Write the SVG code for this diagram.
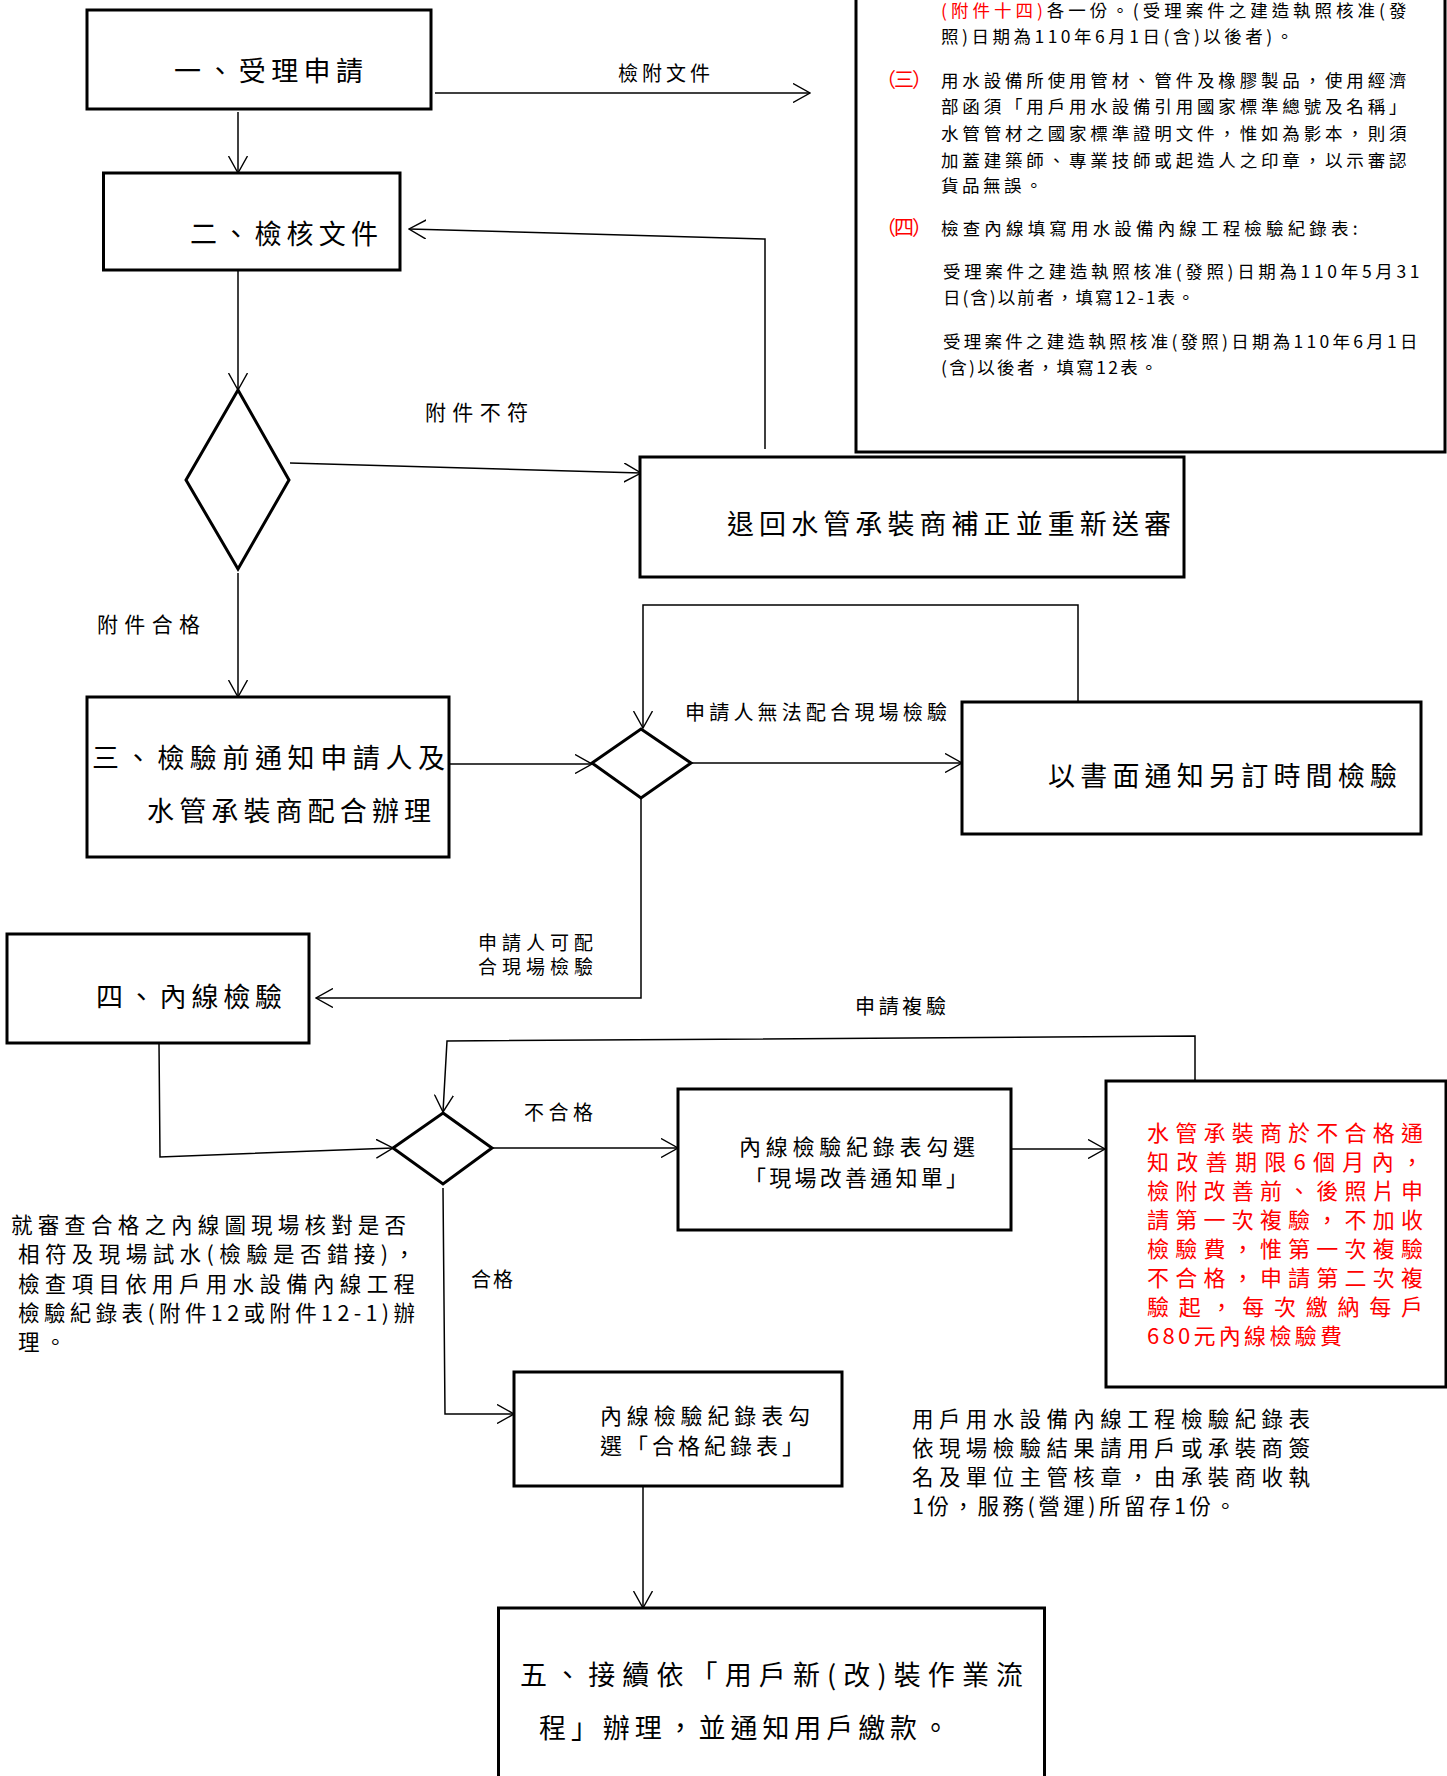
<svg xmlns="http://www.w3.org/2000/svg" width="1447" height="1776" viewBox="0 0 1447 1776">
<defs>
<marker id="arr" viewBox="0 0 18 20" refX="17" refY="10" markerWidth="18" markerHeight="20" markerUnits="userSpaceOnUse" orient="auto">
<path d="M0,0.5 L17,10 L0,19.5" fill="none" stroke="#000" stroke-width="1.4"/>
</marker>
</defs>
<style>
text{font-family:"Noto Sans CJK TC","Noto Sans CJK SC",sans-serif;fill:#000;dominant-baseline:central}
.box{fill:#fff;stroke:#000;stroke-width:3}
.dia{fill:#fff;stroke:#000;stroke-width:3;stroke-linejoin:miter}
.ln{fill:none;stroke:#000;stroke-width:1.5}
.big{font-size:27px}
.lbl{font-size:20px}
.mid{font-size:22px}
.body{font-size:21.5px}
.note{font-size:17.5px;letter-spacing:3.5px}
.tag{font-size:20px}
.red{fill:#ff0000}
</style>

<g id="connectors">
<path class="ln" d="M435,93 H810" marker-end="url(#arr)"/>
<path class="ln" d="M238,112 V173" marker-end="url(#arr)"/>
<path class="ln" d="M238,270 V390" marker-end="url(#arr)"/>
<path class="ln" d="M765,449 V239 L409,229" marker-end="url(#arr)"/>
<path class="ln" d="M290,463 L641,473" marker-end="url(#arr)"/>
<path class="ln" d="M238,573 V697" marker-end="url(#arr)"/>
<path class="ln" d="M449,764 H592" marker-end="url(#arr)"/>
<path class="ln" d="M1078,702 V605 H643 V728" marker-end="url(#arr)"/>
<path class="ln" d="M691,763 H962" marker-end="url(#arr)"/>
<path class="ln" d="M641,798 V998 H316" marker-end="url(#arr)"/>
<path class="ln" d="M159,1043 L160,1157 L393,1148" marker-end="url(#arr)"/>
<path class="ln" d="M492,1148 H678" marker-end="url(#arr)"/>
<path class="ln" d="M1011,1149 H1105" marker-end="url(#arr)"/>
<path class="ln" d="M1195,1081 V1036 L447,1041 L443,1112" marker-end="url(#arr)"/>
<path class="ln" d="M443,1188 L445,1414 H514" marker-end="url(#arr)"/>
<path class="ln" d="M643,1486 V1608" marker-end="url(#arr)"/>
<text class="lbl" x="618" y="72" textLength="92">檢附文件</text>
<text class="lbl" x="425" y="411" textLength="103" style="font-size:21px">附件不符</text>
<text class="lbl" x="97" y="623" textLength="103" style="font-size:21px">附件合格</text>
<text class="lbl" x="685" y="711" textLength="262">申請人無法配合現場檢驗</text>
<text class="lbl" x="478" y="941" textLength="115" style="font-size:19px">申請人可配</text>
<text class="lbl" x="478" y="965" textLength="115" style="font-size:19px">合現場檢驗</text>
<text class="lbl" x="855" y="1005" textLength="91">申請複驗</text>
<text class="lbl" x="524" y="1111" textLength="69">不合格</text>
<text class="lbl" x="471" y="1278" textLength="42">合格</text>
</g>

<g id="note-box">
<rect class="box" x="856" y="-10" width="589" height="462"/>
<text class="note" x="941" y="9" textLength="469"><tspan class="red">(附件十四)</tspan>各一份。(受理案件之建造執照核准(發</text>
<text class="note" x="941" y="35">照)日期為110年6月1日(含)以後者)。</text>
<text class="tag red" x="876" y="78" textLength="56">（三）</text>
<text class="note" x="941" y="79" textLength="469">用水設備所使用管材、管件及橡膠製品，使用經濟</text>
<text class="note" x="941" y="105" textLength="469">部函須「用戶用水設備引用國家標準總號及名稱」</text>
<text class="note" x="941" y="132" textLength="469">水管管材之國家標準證明文件，惟如為影本，則須</text>
<text class="note" x="941" y="159" textLength="469">加蓋建築師、專業技師或起造人之印章，以示審認</text>
<text class="note" x="941" y="184">貨品無誤。</text>
<text class="tag red" x="876" y="226" textLength="56">（四）</text>
<text class="note" x="941" y="227" textLength="420">檢查內線填寫用水設備內線工程檢驗紀錄表:</text>
<text class="note" x="943" y="270" textLength="480">受理案件之建造執照核准(發照)日期為110年5月31</text>
<text class="note" x="943" y="296" textLength="255">日(含)以前者，填寫12-1表。</text>
<text class="note" x="943" y="340" textLength="478">受理案件之建造執照核准(發照)日期為110年6月1日</text>
<text class="note" x="941" y="366" textLength="220">(含)以後者，填寫12表。</text>
</g>

<g id="n1">
<rect class="box" x="87" y="10" width="344" height="99"/>
<text class="big" x="174" y="69" textLength="189">一、受理申請</text>
</g>
<g id="n2">
<rect class="box" x="103.5" y="173" width="296.5" height="97"/>
<text class="big" x="190" y="232" textLength="188">二、檢核文件</text>
</g>
<g id="d1">
<polygon class="dia" points="238,390 289,480 238,569 186,480"/>
</g>
<g id="n-return">
<rect class="box" x="640" y="457" width="544" height="120"/>
<text class="big" x="727" y="522" textLength="444">退回水管承裝商補正並重新送審</text>
</g>
<g id="n3">
<rect class="box" x="87" y="697" width="362" height="160"/>
<text class="big" x="92" y="756" textLength="353">三、檢驗前通知申請人及</text>
<text class="big" x="147" y="809" textLength="284">水管承裝商配合辦理</text>
</g>
<g id="d2">
<polygon class="dia" points="641,729 691,763 641,798 592,763"/>
</g>
<g id="n-resched">
<rect class="box" x="962" y="702" width="459" height="132"/>
<text class="big" x="1048" y="774" textLength="349">以書面通知另訂時間檢驗</text>
</g>
<g id="n4">
<rect class="box" x="7" y="934" width="302" height="109"/>
<text class="big" x="96" y="995" textLength="186">四、內線檢驗</text>
</g>
<g id="d3">
<polygon class="dia" points="443,1113 492,1148 443,1184 393,1148"/>
</g>
<g id="desc">
<text class="body" x="11" y="1223" textLength="395">就審查合格之內線圖現場核對是否</text>
<text class="body" x="18" y="1252" textLength="397">相符及現場試水(檢驗是否錯接)，</text>
<text class="body" x="18" y="1282" textLength="397">檢查項目依用戶用水設備內線工程</text>
<text class="body" x="18" y="1311" textLength="397">檢驗紀錄表(附件12或附件12-1)辦</text>
<text class="body" x="18" y="1340" textLength="48">理。</text>
</g>
<g id="n-fail">
<rect class="box" x="678" y="1089" width="333" height="141"/>
<text class="mid" x="739" y="1145" textLength="236">內線檢驗紀錄表勾選</text>
<text class="mid" x="744" y="1176" textLength="224">「現場改善通知單」</text>
</g>
<g id="n-reinspect">
<rect class="box" x="1106" y="1081" width="340" height="306"/>
<text class="body red" x="1147" y="1131" textLength="276" style="font-size:22px">水管承裝商於不合格通</text>
<text class="body red" x="1147" y="1160" textLength="276" style="font-size:22px">知改善期限6個月內，</text>
<text class="body red" x="1147" y="1189" textLength="276" style="font-size:22px">檢附改善前、後照片申</text>
<text class="body red" x="1147" y="1218" textLength="276" style="font-size:22px">請第一次複驗，不加收</text>
<text class="body red" x="1147" y="1247" textLength="276" style="font-size:22px">檢驗費，惟第一次複驗</text>
<text class="body red" x="1147" y="1276" textLength="276" style="font-size:22px">不合格，申請第二次複</text>
<text class="body red" x="1147" y="1305" textLength="276" style="font-size:22px">驗起，每次繳納每戶</text>
<text class="body red" x="1147" y="1334" textLength="195" style="font-size:22px">680元內線檢驗費</text>
</g>
<g id="n-pass">
<rect class="box" x="514" y="1372" width="328" height="114"/>
<text class="mid" x="600" y="1414" textLength="210">內線檢驗紀錄表勾</text>
<text class="mid" x="600" y="1444" textLength="204">選「合格紀錄表」</text>
</g>
<g id="note-record">
<text class="body" x="912" y="1417" textLength="398">用戶用水設備內線工程檢驗紀錄表</text>
<text class="body" x="912" y="1446" textLength="398">依現場檢驗結果請用戶或承裝商簽</text>
<text class="body" x="912" y="1475" textLength="398">名及單位主管核章，由承裝商收執</text>
<text class="body" x="912" y="1504" textLength="324">1份，服務(營運)所留存1份。</text>
</g>
<g id="n5">
<rect class="box" x="498.5" y="1608" width="546" height="190"/>
<text class="big" x="520" y="1673" textLength="503">五、接續依「用戶新(改)裝作業流</text>
<text class="big" x="539" y="1726" textLength="410">程」辦理，並通知用戶繳款。</text>
</g>
</svg>
